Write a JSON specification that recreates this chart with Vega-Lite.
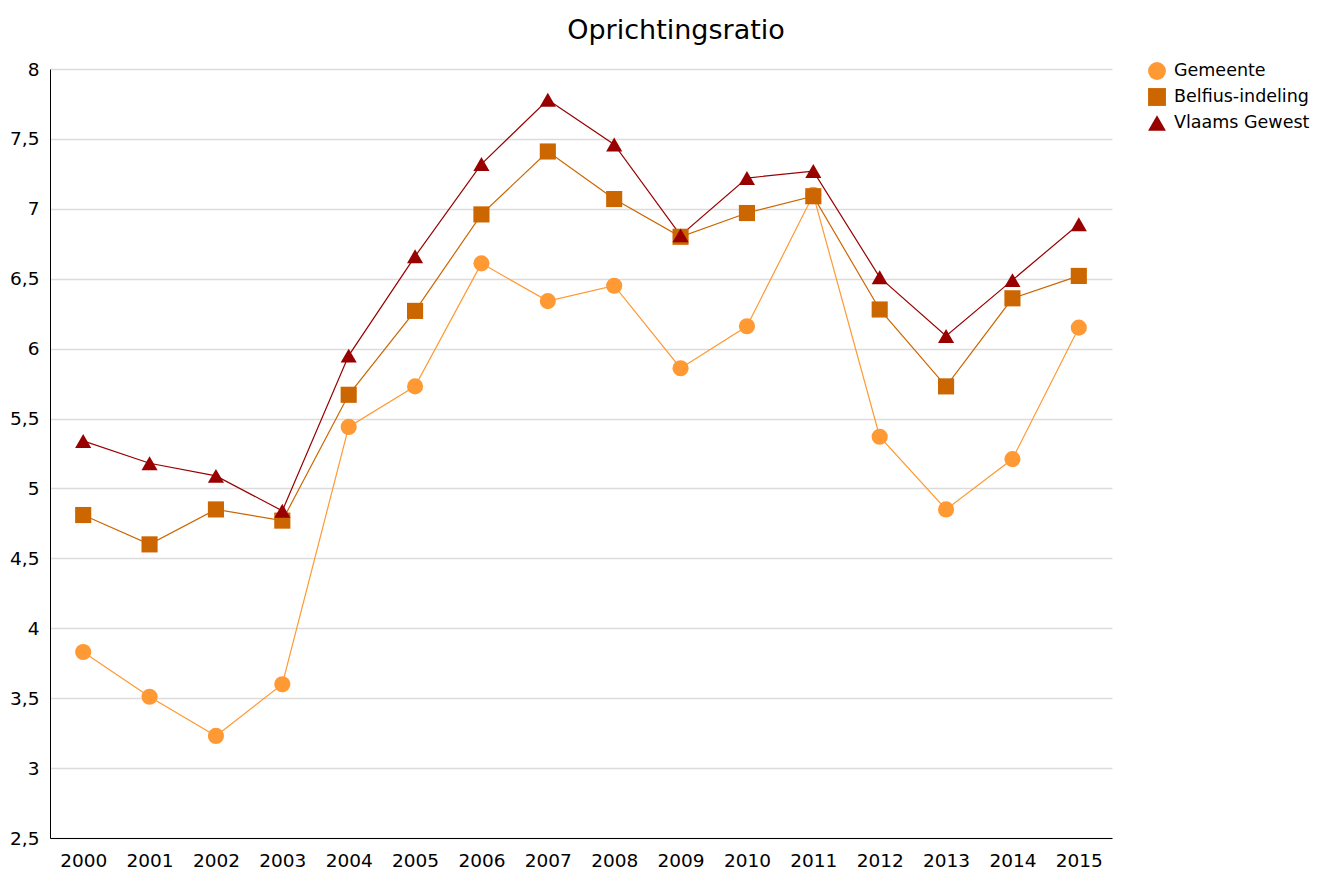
{
  "$schema": "https://vega.github.io/schema/vega-lite/v6.json",
  "width": 1062,
  "height": 769,
  "autosize": "none",
  "padding": {"left": 50, "top": 69, "right": 206, "bottom": 34},
  "background": "white",
  "title": {"text": "Oprichtingsratio", "font": "DejaVu Sans", "fontSize": 27, "fontWeight": "normal", "color": "#000000", "anchor": "middle", "dx": 95, "offset": 15},
  "config": {
    "font": "DejaVu Sans",
    "view": {"stroke": null},
    "axis": {"labelFont": "DejaVu Sans", "labelFontSize": 18.5, "labelColor": "#000000", "ticks": false, "title": null}
  },
  "data": {"values": [
    {"year": "2000", "series": "Gemeente", "v": 3.83},
    {"year": "2001", "series": "Gemeente", "v": 3.51},
    {"year": "2002", "series": "Gemeente", "v": 3.23},
    {"year": "2003", "series": "Gemeente", "v": 3.6},
    {"year": "2004", "series": "Gemeente", "v": 5.44},
    {"year": "2005", "series": "Gemeente", "v": 5.73},
    {"year": "2006", "series": "Gemeente", "v": 6.61},
    {"year": "2007", "series": "Gemeente", "v": 6.34},
    {"year": "2008", "series": "Gemeente", "v": 6.45},
    {"year": "2009", "series": "Gemeente", "v": 5.86},
    {"year": "2010", "series": "Gemeente", "v": 6.16},
    {"year": "2011", "series": "Gemeente", "v": 7.1},
    {"year": "2012", "series": "Gemeente", "v": 5.37},
    {"year": "2013", "series": "Gemeente", "v": 4.85},
    {"year": "2014", "series": "Gemeente", "v": 5.21},
    {"year": "2015", "series": "Gemeente", "v": 6.15},
    {"year": "2000", "series": "Belfius-indeling", "v": 4.81},
    {"year": "2001", "series": "Belfius-indeling", "v": 4.6},
    {"year": "2002", "series": "Belfius-indeling", "v": 4.85},
    {"year": "2003", "series": "Belfius-indeling", "v": 4.77},
    {"year": "2004", "series": "Belfius-indeling", "v": 5.67},
    {"year": "2005", "series": "Belfius-indeling", "v": 6.27},
    {"year": "2006", "series": "Belfius-indeling", "v": 6.96},
    {"year": "2007", "series": "Belfius-indeling", "v": 7.41},
    {"year": "2008", "series": "Belfius-indeling", "v": 7.07},
    {"year": "2009", "series": "Belfius-indeling", "v": 6.8},
    {"year": "2010", "series": "Belfius-indeling", "v": 6.97},
    {"year": "2011", "series": "Belfius-indeling", "v": 7.09},
    {"year": "2012", "series": "Belfius-indeling", "v": 6.28},
    {"year": "2013", "series": "Belfius-indeling", "v": 5.73},
    {"year": "2014", "series": "Belfius-indeling", "v": 6.36},
    {"year": "2015", "series": "Belfius-indeling", "v": 6.52},
    {"year": "2000", "series": "Vlaams Gewest", "v": 5.34},
    {"year": "2001", "series": "Vlaams Gewest", "v": 5.18},
    {"year": "2002", "series": "Vlaams Gewest", "v": 5.09},
    {"year": "2003", "series": "Vlaams Gewest", "v": 4.84},
    {"year": "2004", "series": "Vlaams Gewest", "v": 5.95},
    {"year": "2005", "series": "Vlaams Gewest", "v": 6.66},
    {"year": "2006", "series": "Vlaams Gewest", "v": 7.32},
    {"year": "2007", "series": "Vlaams Gewest", "v": 7.78},
    {"year": "2008", "series": "Vlaams Gewest", "v": 7.46},
    {"year": "2009", "series": "Vlaams Gewest", "v": 6.81},
    {"year": "2010", "series": "Vlaams Gewest", "v": 7.22},
    {"year": "2011", "series": "Vlaams Gewest", "v": 7.27},
    {"year": "2012", "series": "Vlaams Gewest", "v": 6.51},
    {"year": "2013", "series": "Vlaams Gewest", "v": 6.09},
    {"year": "2014", "series": "Vlaams Gewest", "v": 6.49},
    {"year": "2015", "series": "Vlaams Gewest", "v": 6.89}
  ]},
  "encoding": {
    "x": {"field": "year", "type": "ordinal", "scale": {"type": "point", "padding": 0.5},
      "axis": {"labelAngle": 0, "grid": false, "domain": true, "domainColor": "#000000", "domainWidth": 1, "labelPadding": 13}},
    "y": {"field": "v", "type": "quantitative", "scale": {"domain": [2.5, 8], "nice": false, "zero": false},
      "axis": {"values": [2.5, 3, 3.5, 4, 4.5, 5, 5.5, 6, 6.5, 7, 7.5, 8], "labelExpr": "replace(toString(datum.value), '.', ',')", "grid": true, "gridColor": "#dcdcdc", "gridWidth": 1.5, "domain": true, "domainColor": "#000000", "domainWidth": 1, "labelPadding": 11}},
    "color": {"field": "series", "type": "nominal",
      "scale": {"domain": ["Gemeente", "Belfius-indeling", "Vlaams Gewest"], "range": ["#ff9933", "#cc6600", "#990000"]},
      "legend": {"orient": "none", "legendX": 1098, "legendY": -7, "title": null, "labelFont": "DejaVu Sans", "labelFontSize": 17.5, "labelColor": "#000000", "symbolSize": 320, "rowPadding": 8, "labelOffset": 8, "symbolStrokeWidth": 0}}
  },
  "layer": [
    {"mark": {"type": "line", "strokeWidth": 1.2}},
    {"mark": {"type": "point", "filled": true, "opacity": 1, "size": 260},
      "encoding": {"shape": {"field": "series", "type": "nominal",
        "scale": {"domain": ["Gemeente", "Belfius-indeling", "Vlaams Gewest"], "range": ["circle", "square", "triangle-up"]},
        "legend": null}}}
  ]
}
